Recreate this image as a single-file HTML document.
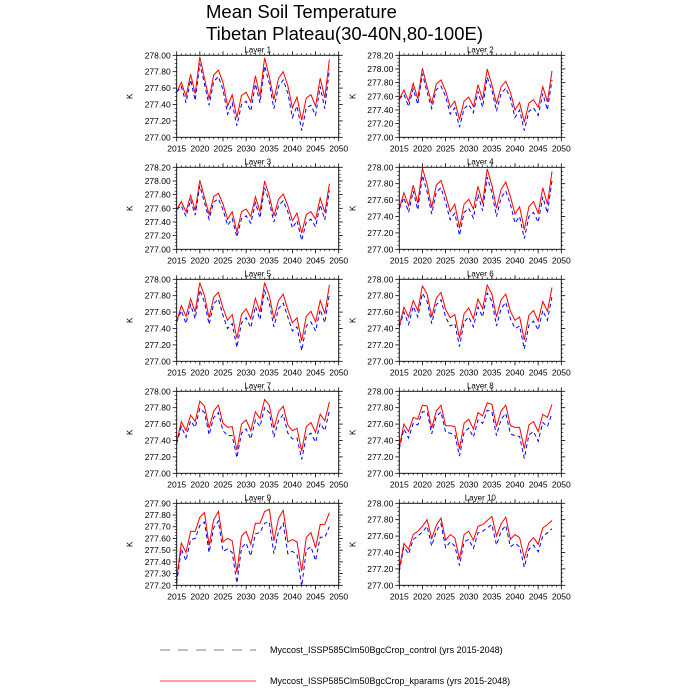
<!DOCTYPE html>
<html><head><meta charset="utf-8"><style>
html,body{margin:0;padding:0;background:#fff;}
svg{display:block;font-family:"Liberation Sans",sans-serif;}
</style></head><body>
<svg id="c" width="700" height="700" viewBox="0 0 700 700">
<text x="206" y="18" font-size="18.5">Mean Soil Temperature</text>
<text x="206" y="40" font-size="18.5">Tibetan Plateau(30-40N,80-100E)</text>
<g>
<line x1="160" y1="650" x2="256" y2="650" stroke="#000" stroke-width="0.6" stroke-dasharray="10,8"/>
<text x="270" y="653" font-size="9">Myccost_ISSP585Clm50BgcCrop_control (yrs 2015-2048)</text>
<line x1="160" y1="681" x2="256" y2="681" stroke="red" stroke-width="0.8"/>
<text x="270" y="684" font-size="9">Myccost_ISSP585Clm50BgcCrop_kparams (yrs 2015-2048)</text>
</g>
</svg>
<script>
const startYear = 2015;
const xTicks = [2015,2020,2025,2030,2035,2040,2045,2050];
const L1r=[277.55,277.67,277.50,277.77,277.53,277.98,277.72,277.47,277.76,277.82,277.67,277.38,277.52,277.24,277.51,277.55,277.43,277.75,277.50,277.97,277.74,277.46,277.72,277.80,277.63,277.36,277.49,277.21,277.48,277.52,277.38,277.72,277.48,277.95];
const L1b=[277.55,277.62,277.42,277.70,277.45,277.90,277.65,277.39,277.68,277.74,277.58,277.28,277.42,277.14,277.40,277.44,277.32,277.65,277.42,277.87,277.66,277.35,277.62,277.70,277.54,277.24,277.38,277.08,277.36,277.39,277.27,277.62,277.35,277.83];
const L2r=[277.56,277.69,277.53,277.79,277.56,278.01,277.74,277.50,277.78,277.84,277.68,277.44,277.53,277.26,277.53,277.59,277.45,277.77,277.55,278.00,277.77,277.49,277.74,277.82,277.66,277.40,277.51,277.22,277.50,277.55,277.44,277.74,277.52,277.97];
const L2b=[277.56,277.63,277.45,277.71,277.48,277.93,277.66,277.42,277.70,277.75,277.60,277.34,277.43,277.15,277.42,277.48,277.36,277.67,277.44,277.88,277.69,277.38,277.64,277.72,277.57,277.29,277.40,277.10,277.38,277.43,277.32,277.64,277.40,277.84];
const L3r=[277.58,277.70,277.55,277.79,277.57,278.01,277.76,277.51,277.77,277.82,277.66,277.44,277.55,277.25,277.55,277.59,277.48,277.77,277.55,278.00,277.78,277.49,277.73,277.81,277.64,277.42,277.53,277.24,277.51,277.55,277.44,277.75,277.54,277.96];
const L3b=[277.58,277.64,277.48,277.72,277.50,277.93,277.68,277.44,277.69,277.74,277.58,277.35,277.45,277.18,277.45,277.49,277.38,277.68,277.46,277.90,277.69,277.40,277.64,277.71,277.55,277.31,277.42,277.13,277.40,277.44,277.33,277.65,277.43,277.86];
const L4r=[277.50,277.69,277.53,277.78,277.56,277.99,277.79,277.51,277.78,277.84,277.66,277.46,277.55,277.26,277.55,277.61,277.49,277.77,277.56,277.98,277.78,277.50,277.73,277.82,277.64,277.43,277.52,277.24,277.52,277.58,277.44,277.75,277.55,277.95];
const L4b=[277.49,277.63,277.45,277.71,277.48,277.90,277.70,277.43,277.70,277.75,277.57,277.36,277.44,277.17,277.45,277.50,277.38,277.67,277.47,277.88,277.69,277.40,277.63,277.71,277.55,277.32,277.40,277.13,277.40,277.45,277.33,277.64,277.44,277.84];
const L5r=[277.48,277.68,277.55,277.76,277.60,277.96,277.80,277.53,277.78,277.84,277.65,277.50,277.57,277.28,277.57,277.64,277.52,277.77,277.60,277.96,277.80,277.52,277.74,277.82,277.63,277.47,277.53,277.25,277.55,277.61,277.48,277.74,277.58,277.93];
const L5b=[277.48,277.62,277.46,277.69,277.52,277.87,277.72,277.45,277.70,277.76,277.56,277.40,277.46,277.17,277.47,277.53,277.41,277.67,277.51,277.86,277.71,277.42,277.64,277.71,277.54,277.37,277.42,277.13,277.43,277.48,277.37,277.63,277.47,277.82];
const L6r=[277.43,277.66,277.54,277.74,277.62,277.92,277.82,277.54,277.77,277.84,277.63,277.53,277.57,277.28,277.58,277.65,277.52,277.76,277.64,277.93,277.82,277.54,277.75,277.82,277.61,277.50,277.54,277.26,277.56,277.62,277.49,277.73,277.61,277.90];
const L6b=[277.42,277.60,277.45,277.67,277.54,277.83,277.73,277.46,277.69,277.75,277.54,277.43,277.46,277.18,277.48,277.54,277.42,277.66,277.54,277.83,277.73,277.43,277.64,277.72,277.52,277.40,277.43,277.15,277.44,277.49,277.38,277.62,277.50,277.79];
const L7r=[277.38,277.63,277.52,277.71,277.63,277.88,277.82,277.55,277.76,277.83,277.61,277.56,277.57,277.28,277.60,277.65,277.52,277.75,277.67,277.90,277.83,277.55,277.75,277.82,277.59,277.52,277.55,277.27,277.57,277.62,277.50,277.72,277.64,277.87];
const L7b=[277.36,277.57,277.44,277.64,277.56,277.79,277.74,277.47,277.68,277.74,277.52,277.46,277.46,277.19,277.49,277.54,277.42,277.65,277.57,277.80,277.74,277.44,277.64,277.72,277.49,277.42,277.43,277.17,277.45,277.49,277.38,277.61,277.52,277.76];
const L8r=[277.32,277.60,277.51,277.68,277.66,277.83,277.82,277.55,277.76,277.83,277.58,277.58,277.57,277.30,277.61,277.66,277.54,277.74,277.70,277.86,277.84,277.57,277.76,277.83,277.58,277.56,277.56,277.30,277.59,277.63,277.51,277.72,277.68,277.84];
const L8b=[277.30,277.54,277.43,277.61,277.59,277.75,277.75,277.48,277.69,277.75,277.50,277.49,277.47,277.21,277.50,277.55,277.44,277.65,277.61,277.77,277.75,277.46,277.66,277.73,277.48,277.46,277.45,277.18,277.47,277.51,277.39,277.62,277.57,277.73];
const L9r=[277.25,277.56,277.48,277.66,277.66,277.78,277.82,277.54,277.76,277.83,277.57,277.60,277.58,277.31,277.62,277.66,277.55,277.73,277.73,277.83,277.85,277.58,277.77,277.84,277.57,277.59,277.57,277.32,277.61,277.65,277.52,277.72,277.72,277.82];
const L9b=[277.22,277.51,277.41,277.59,277.60,277.71,277.74,277.48,277.69,277.75,277.49,277.51,277.48,277.22,277.52,277.56,277.45,277.64,277.65,277.73,277.74,277.47,277.66,277.73,277.47,277.49,277.46,277.19,277.50,277.53,277.41,277.61,277.61,277.70];
const L10r=[277.20,277.51,277.44,277.62,277.66,277.72,277.80,277.57,277.73,277.82,277.55,277.62,277.58,277.32,277.62,277.66,277.55,277.72,277.74,277.79,277.84,277.60,277.75,277.83,277.56,277.62,277.58,277.33,277.52,277.58,277.50,277.70,277.74,277.79];
const L10b=[277.17,277.47,277.38,277.56,277.60,277.65,277.72,277.48,277.66,277.75,277.46,277.53,277.48,277.24,277.53,277.56,277.45,277.64,277.66,277.70,277.74,277.49,277.66,277.73,277.47,277.51,277.47,277.22,277.44,277.49,277.41,277.60,277.64,277.69];
const panelTitles=["Layer 1","Layer 2","Layer 3","Layer 4","Layer 5","Layer 6","Layer 7","Layer 8","Layer 9","Layer 10"];
const redSeries=[L1r,L2r,L3r,L4r,L5r,L6r,L7r,L8r,L9r,L10r];
const blueSeries=[L1b,L2b,L3b,L4b,L5b,L6b,L7b,L8b,L9b,L10b];
const yMins=[277,277,277,277,277,277,277,277,277.2,277];
const yMaxs=[278,278.2,278.2,278,278,278,278,278,277.9,278];
const ySteps=[0.2,0.2,0.2,0.2,0.2,0.2,0.2,0.2,0.1,0.2];

const NS="http://www.w3.org/2000/svg";
const svg=document.getElementById('c');
function mk(tag,attrs,parent){const e=document.createElementNS(NS,tag);for(const k in attrs)e.setAttribute(k,attrs[k]);parent.appendChild(e);return e;}
const W=162,H=82;
for(let p=0;p<10;p++){
  const col=p%2,row=Math.floor(p/2);
  const x0=176.7+col*222.6, y0=55.3+row*112;
  const ymin=yMins[p],ymax=yMaxs[p],ystep=ySteps[p];
  const xs=v=>x0+(v-2015)/35*W;
  const ys=v=>y0+H-(v-ymin)/(ymax-ymin)*H;
  const g=mk('g',{},svg);
  
  
  const t=mk('text',{x:x0+W/2,y:y0-3,'font-size':8,'text-anchor':'middle'},g);
  t.textContent=panelTitles[p];
  
  
  const yl=mk('text',{x:0,y:0,'font-size':8,'text-anchor':'middle',transform:`translate(${x0-44},${y0+H/2}) rotate(-90)`},g);
  yl.textContent='K';
  
  
  const nT=Math.round((ymax-ymin)/ystep);
  for(let i=0;i<=nT;i++){
    const v=ymin+i*ystep, y=ys(v);
    mk('line',{x1:x0-4,y1:y,x2:x0,y2:y,stroke:'#000','stroke-width':0.8},g);
    mk('line',{x1:x0+W,y1:y,x2:x0+W+4,y2:y,stroke:'#000','stroke-width':0.8},g);
    const tl=mk('text',{x:x0-6,y:y+3,'font-size':8.5,'text-anchor':'end'},g);
    tl.textContent=v.toFixed(2);
    
    
    if(i<nT){for(let m=1;m<4;m++){const ym=ys(v+ystep*m/4);
      mk('line',{x1:x0-2,y1:ym,x2:x0,y2:ym,stroke:'#000','stroke-width':0.6},g);
      mk('line',{x1:x0+W,y1:ym,x2:x0+W+2,y2:ym,stroke:'#000','stroke-width':0.6},g);}}
  }
  xTicks.forEach((v,i)=>{
    const x=xs(v);
    mk('line',{x1:x,y1:y0+H,x2:x,y2:y0+H+4,stroke:'#000','stroke-width':0.8},g);
    mk('line',{x1:x,y1:y0-4,x2:x,y2:y0,stroke:'#000','stroke-width':0.8},g);
    const tl=mk('text',{x:x,y:y0+H+14,'font-size':8.5,'text-anchor':'middle'},g);
    tl.textContent=v;
    
    
    if(i<xTicks.length-1){for(let m=1;m<5;m++){const xm=xs(v+m);
      mk('line',{x1:xm,y1:y0+H,x2:xm,y2:y0+H+2,stroke:'#000','stroke-width':0.6},g);
      mk('line',{x1:xm,y1:y0-2,x2:xm,y2:y0,stroke:'#000','stroke-width':0.6},g);}}
  });
  const bpts=blueSeries[p].map((v,i)=>xs(startYear+i).toFixed(1)+','+ys(v).toFixed(1)).join(' ');
  const bl=mk('polyline',{points:bpts,fill:'none',stroke:'#0000ff','stroke-width':1,'stroke-dasharray':'4,3'},g);
  
  
  const rpts=redSeries[p].map((v,i)=>xs(startYear+i).toFixed(1)+','+ys(v).toFixed(1)).join(' ');
  const rl=mk('polyline',{points:rpts,fill:'none',stroke:'#ff0000','stroke-width':1},g);
  
  
  const fr=mk('rect',{x:x0,y:y0,width:W,height:H,fill:'none',stroke:'#000','stroke-width':0.9},g);
  
  
}
</script>
</body></html>
